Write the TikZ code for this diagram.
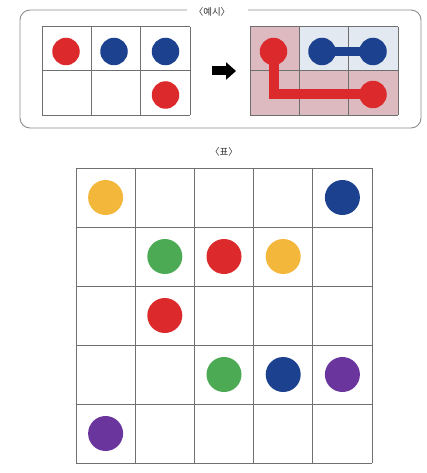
\documentclass[tikz,border=0pt]{standalone}
\usepackage{fontspec}
\newfontfamily\kr{Noto Sans CJK KR}
\usepackage{xcolor}
\usetikzlibrary{arrows.meta,positioning,calc}
\definecolor{chipRed}{HTML}{DC2A2C}
\definecolor{chipBlue}{HTML}{1B418F}
\definecolor{chipYellow}{HTML}{F3B73C}
\definecolor{chipGreen}{HTML}{4DAA54}
\definecolor{chipPurple}{HTML}{6A369E}
\definecolor{gridGray}{HTML}{6F6F6F}
\definecolor{frameGray}{HTML}{8C8C8C}
\definecolor{pathPink}{HTML}{DDBAC0}
\definecolor{pathSky}{HTML}{E3E9F1}
\definecolor{ink}{HTML}{333333}

\begin{document}
\begin{tikzpicture}[x=1pt,y=-1pt,font=\kr\fontsize{9.5}{11}\selectfont,
  chip/.style={circle,fill=#1,inner sep=0pt,minimum size=27.5pt},
  bigchip/.style={circle,fill=#1,inner sep=0pt,minimum size=35pt},
  gline/.style={gridGray,line width=0.7pt}]
\useasboundingbox (0,0) rectangle (427,473);
% example frame
\draw[frameGray,line width=0.9pt,rounded corners=10pt] (187,10) -- (20,10) -- (20,128) -- (421,128) -- (421,10) -- (248,10);
\node[ink] (extitle) at (212,11.5) {〈예시〉};
% example, before
\foreach \i in {0,...,3} \draw[gline] (42+49.33*\i,26.7) -- (42+49.33*\i,115);
\foreach \j in {0,1,2} \draw[gline] (42,26.7+44.15*\j) -- (190,26.7+44.15*\j);
\node[chip=chipRed] (l11) at (66,51.5) {};
\node[chip=chipBlue] (l12) at (114,51.5) {};
\node[chip=chipBlue] (l13) at (165.5,51.5) {};
\node[chip=chipRed] (l23) at (165.5,95) {};
% arrow
\coordinate (arrL) at (212,71);
\coordinate (arrR) at (236,71);
\draw[line width=9pt,-{Triangle[length=10pt,width=17pt]}] (arrL) -- (arrR);
% example, after
\fill[pathPink] (250,26.7) rectangle (299.3,115);
\fill[pathPink] (299.3,70.85) rectangle (398,115);
\fill[pathSky] (299.3,26.7) rectangle (398,70.85);
\foreach \i in {0,...,3} \draw[gline] (250+49.33*\i,26.7) -- (250+49.33*\i,115);
\foreach \j in {0,1,2} \draw[gline] (250,26.7+44.15*\j) -- (398,26.7+44.15*\j);
\node[chip=chipRed] (r11) at (273.5,51.5) {};
\node[chip=chipBlue] (r12) at (322,51.5) {};
\node[chip=chipBlue] (r13) at (373,51.5) {};
\node[chip=chipRed] (r23) at (373,94.5) {};
\draw[chipRed,line width=10pt] (r11.center) |- (r23.center);
\draw[chipBlue,line width=9.5pt] (r12.center) -- (r13.center);
% table
\node[ink] (tbtitle) at (224,151.5) {〈표〉};
\foreach \i in {0,...,5} \draw[gline] (76+59.2*\i,168) -- (76+59.2*\i,463);
\foreach \j in {0,...,5} \draw[gline] (76,168+59*\j) -- (372,168+59*\j);
\foreach \c/\r/\col in {1/1/chipYellow,5/1/chipBlue,2/2/chipGreen,3/2/chipRed,4/2/chipYellow,
    2/3/chipRed,3/4/chipGreen,4/4/chipBlue,5/4/chipPurple,1/5/chipPurple}
  \node[bigchip=\col] (t\c\r) at (46.4+59.2*\c,138.5+59*\r) {};
\end{tikzpicture}
\end{document}
